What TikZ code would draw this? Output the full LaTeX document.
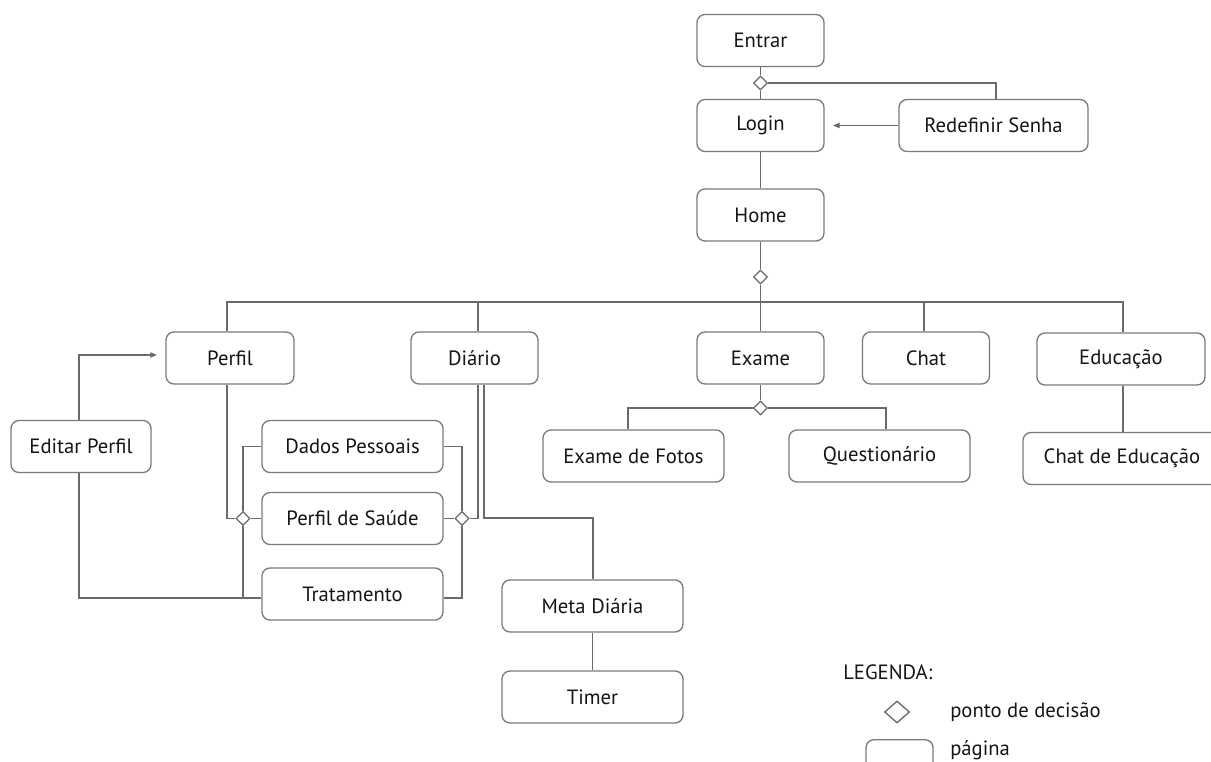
\documentclass[tikz,border=0pt]{standalone}
\usepackage{fontspec}
\setmainfont{PT Sans}
\usetikzlibrary{arrows.meta,shapes.geometric}
\definecolor{ln}{HTML}{6A6A6A}
\definecolor{bx}{HTML}{7A7A7A}
\definecolor{tx}{HTML}{151515}
\tikzset{
  page/.style={draw=bx, line width=1pt, rounded corners=6pt, fill=white, inner sep=0pt,
    minimum height=52*0.75pt, minimum width=#1*0.75pt, text=tx,
    font=\fontsize{15.5}{18}\selectfont},
  page/.default=127,
  dec/.style={draw=ln, line width=1pt, shape=diamond, fill=white, inner sep=0pt,
    minimum width=14*0.75pt, minimum height=14*0.75pt},
  conn/.style={draw=ln, line width=1pt},
  arr/.style={conn, -{Triangle[length=5pt,width=4pt]}},
  lbl/.style={text=tx, font=\fontsize{15.5}{18}\selectfont, inner sep=0pt, anchor=west}
}
\begin{document}
\begin{tikzpicture}[x=0.75pt,y=-0.75pt]
\useasboundingbox (0,0) rectangle (1211,762);
\clip (0,0) rectangle (1211,762);
% pages
\node[page] (entrar) at (760.5,40.5) {Entrar};
\node[page] (login) at (760.5,125.5) {Login};
\node[page=189] (redef) at (993.5,125.5) {Redefinir Senha};
\node[page] (home) at (760.5,215) {Home};
\node[page=128] (perfil) at (230,358) {Perfil};
\node[page] (diario) at (474.5,358) {Diário};
\node[page] (exame) at (760.5,358) {Exame};
\node[page] (chat) at (926,358) {Chat};
\node[page=168] (educ) at (1121,359) {Educação};
\node[page=181] (exfotos) at (633.5,456) {Exame de Fotos};
\node[page=181] (quest) at (879.5,456) {Questionário};
\node[page=198] (chatedu) at (1122,458.5) {Chat de Educação};
\node[page=140] (editar) at (81,446.5) {Editar Perfil};
\node[page=181] (dados) at (352.5,446.5) {Dados Pessoais};
\node[page=181] (saude) at (352.5,518.5) {Perfil de Saúde};
\node[page=181] (trat) at (352.5,594) {Tratamento};
\node[page=181] (meta) at (592.5,606) {Meta Diária};
\node[page=181] (timer) at (592.5,697) {Timer};
% decision points
\node[dec] (d1) at (760.5,83) {};
\node[dec] (d2) at (760.5,277) {};
\node[dec] (d3) at (760.5,408) {};
\node[dec] (dl) at (243,518.5) {};
\node[dec] (dr) at (462,518.5) {};
% helper coordinates
\coordinate (bar) at (0,302);
\coordinate (pl) at (227,0);
\coordinate (dA) at (478,0);
\coordinate (dB) at (484,0);
\coordinate (ex) at (1123,0);
\coordinate (ch) at (924,0);
\coordinate (el) at (79,0);
\coordinate (tl) at (0,598);
\coordinate (mc) at (593,518);
\coordinate (efx) at (628,0);
\coordinate (qx) at (886,0);
\coordinate (rx) at (996,0);
\coordinate (ltip) at (833,125.5);
\coordinate (ptip) at (157,355);
% connectors
\draw[conn] (entrar.south) -- (d1.north);
\draw[conn] (d1.south) -- (login.north);
\draw[conn] (d1.east) -| (redef.north -| rx);
\draw[arr] (redef.west) -- (ltip);
\draw[conn] (login.south) -- (home.north);
\draw[conn] (home.south) -- (d2.north);
\draw[conn] (d2.south) -- (exame.north);
\draw[conn] (perfil.north -| pl) |- (bar -| ex) -- (educ.north -| ex);
\draw[conn] (diario.north -| dA) -- (dA |- bar);
\draw[conn] (chat.north -| ch) -- (ch |- bar);
\draw[conn] (educ.south -| ex) -- (chatedu.north -| ex);
% exame
\draw[conn] (exame.south) -- (d3.north);
\draw[conn] (d3.west) -| (exfotos.north -| efx);
\draw[conn] (d3.east) -| (quest.north -| qx);
% perfil group
\draw[conn] (perfil.south -| pl) |- (dl.west);
\draw[conn] (dl.east) -- (saude.west);
\draw[conn] (dados.west) -| (dl.north);
\draw[conn] (dl.south) -- (dl |- tl);
\draw[arr] (editar.north -| el) |- (ptip);
\draw[conn] (editar.south -| el) |- (trat.west |- tl);
\draw[conn] (dados.east) -| (dr.north);
\draw[conn] (dr.south) |- (trat.east |- tl);
\draw[conn] (saude.east) -- (dr.west);
\draw[conn] (dr.east) -| (diario.south -| dA);
\draw[conn] (diario.south -| dB) |- (mc) -- (meta.north -| mc);
\draw[conn] (meta.south) -- (timer.north);
% legend
\node[lbl] (leg) at (843,672) {LEGENDA:};
\node[dec, minimum width=25*0.75pt, minimum height=22*0.75pt] (legd) at (897,712) {};
\node[lbl] (legdt) at (950,712) {ponto de decisão};
\node[page=67, minimum height=40*0.75pt, anchor=north] (legp) at (899.5,739) {};
\node[lbl] (legpt) at (950,750) {página};
\end{tikzpicture}
\end{document}
